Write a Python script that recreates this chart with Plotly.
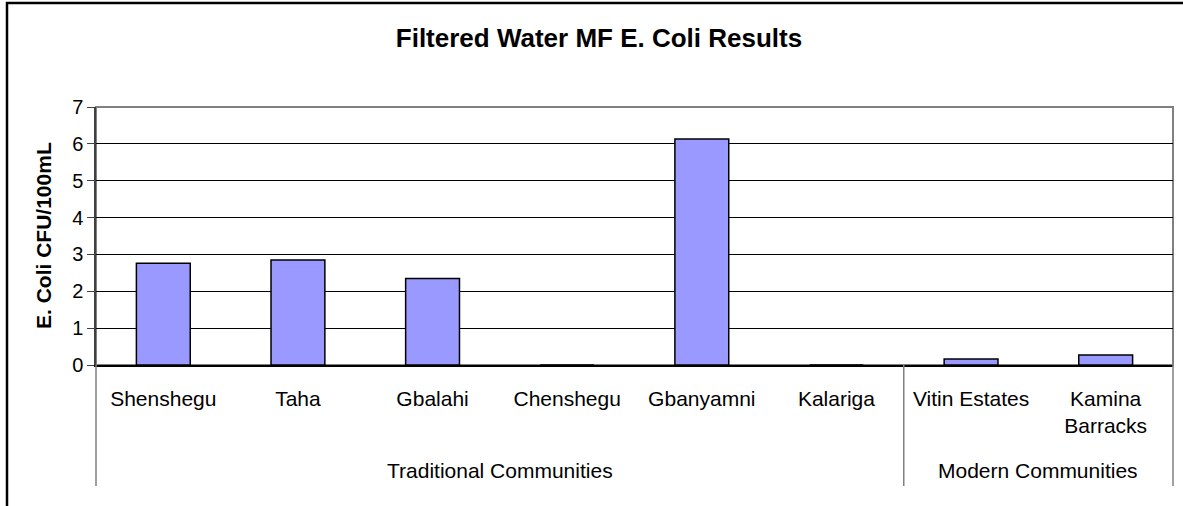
import plotly.graph_objects as go

communities = ["Shenshegu", "Taha", "Gbalahi", "Chenshegu", "Gbanyamni", "Kalariga",
               "Vitin Estates", "Kamina<br>Barracks"]
ecoli = [2.76, 2.85, 2.35, 0, 6.13, 0, 0.16, 0.27]
group_names = ["Traditional Communities", "Modern Communities"]
group_sizes = [6, 2]

font = "Arial, Liberation Sans, sans-serif"

fig = go.Figure()
fig.add_trace(go.Bar(
    x=communities, y=ecoli, width=0.4,
    marker=dict(color="#9999FF", line=dict(color="#000000", width=1.5)),
))

W, H = 1183, 506
L, R, T, B = 96, 10, 107, 141
pw, ph = W - L - R, H - T - B
n = len(communities)

# y title, group labels under the categories, divider lines between groups
annotations = [dict(text="<b>E. Coli CFU/100mL</b>", textangle=-90, xref="paper", yref="paper",
                    x=(43 - L) / pw, y=0.5, xanchor="center", yanchor="middle",
                    showarrow=False, font=dict(size=21))]
shapes = [
    dict(type="rect", xref="paper", yref="paper",
         x0=(7 - L) / pw, x1=(W + 20 - L) / pw,
         y0=-(B + 20) / ph, y1=(H - B - 3) / ph,
         line=dict(color="black", width=2.5), layer="below"),
    dict(type="rect", xref="paper", yref="paper", x0=0, x1=1, y0=0, y1=1,
         line=dict(color="#808080", width=2), layer="below"),
]
start = 0
bounds = [0]
for name, size in zip(group_names, group_sizes):
    annotations.append(dict(text=name, xref="paper", yref="paper",
                            x=(start + size / 2) / n, y=(H - B - 470) / ph,
                            xanchor="center", yanchor="middle",
                            showarrow=False, font=dict(size=21)))
    start += size
    bounds.append(start)
for b in bounds:
    shapes.append(dict(type="line", xref="paper", yref="paper", x0=b / n, x1=b / n,
                       y0=0, y1=(H - B - 486) / ph, line=dict(color="#808080", width=1.5)))

fig.update_layout(
    width=W, height=H,
    margin=dict(l=L, r=R, t=T, b=B),
    paper_bgcolor="white", plot_bgcolor="white",
    showlegend=False,
    font=dict(family=font, size=21, color="black"),
    title=dict(text="<b>Filtered Water MF E. Coli Results</b>", x=599 / W, xanchor="center",
               y=1 - 38 / H, yanchor="middle", yref="container",
               font=dict(size=26, family=font, color="black")),
    annotations=annotations,
    shapes=shapes,
)

fig.update_yaxes(
    range=[0, 7], dtick=1, showgrid=True, gridcolor="#000000", gridwidth=1,
    ticks="outside", ticklen=7, tickcolor="#404040", tickwidth=1,
    showline=True, linecolor="#404040", linewidth=1.5,
    tickfont=dict(size=20), zeroline=False, automargin=False,
)
fig.update_xaxes(
    showline=True, linecolor="#000000", linewidth=1.5,
    ticks="", tickfont=dict(size=21), ticklabelstandoff=14, automargin=False,
)

fig.write_html("out.html", config={"displayModeBar": False},
               post_script="document.body.style.margin='0';")
